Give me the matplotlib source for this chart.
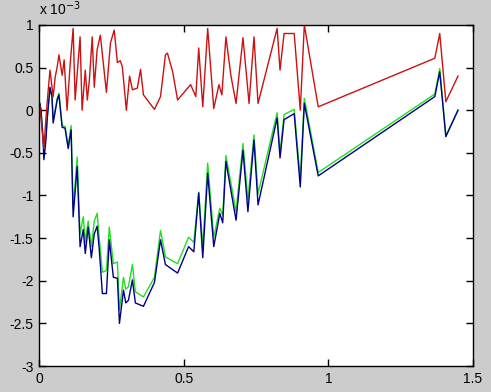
import matplotlib
matplotlib.use('Agg')
import matplotlib.pyplot as plt

plt.rcParams['font.family'] = ['Liberation Sans', 'DejaVu Sans']

# pixel-read data, y in units of 1e-3
x_red = [0.003, 0.017, 0.024, 0.031, 0.038, 0.049, 0.056, 0.063, 0.069, 0.080,
         0.087, 0.097, 0.108, 0.118, 0.125, 0.142, 0.149, 0.160, 0.167, 0.174,
         0.184, 0.191, 0.201, 0.212, 0.233, 0.247, 0.260, 0.271, 0.281, 0.288,
         0.302, 0.313, 0.323, 0.340, 0.351, 0.361, 0.399, 0.420, 0.437, 0.444,
         0.462, 0.479, 0.524, 0.542, 0.552, 0.566, 0.583, 0.604, 0.622, 0.632,
         0.646, 0.663, 0.681, 0.705, 0.726, 0.743, 0.757, 0.823, 0.833, 0.847,
         0.882, 0.903, 0.917, 0.965, 1.368, 1.385, 1.406, 1.448]
red = [0.05, -0.45, -0.1, 0.2, 0.47, 0.16, 0.39, 0.51, 0.65, 0.41,
       0.59, 0.0, 0.55, 0.96, 0.12, 0.86, 0.0, 0.47, 0.12, 0.35,
       0.86, 0.27, 0.71, 0.88, 0.21, 0.79, 0.94, 0.56, 0.58, 0.51,
       0.0, 0.40, 0.24, 0.26, 0.48, 0.18, 0.01, 0.16, 0.65, 0.67,
       0.45, 0.12, 0.30, 0.16, 0.73, 0.04, 0.96, 0.02, 0.30, 0.18,
       0.86, 0.41, 0.08, 0.85, 0.08, 0.86, 0.08, 0.96, 0.47, 0.90,
       0.90, 0.0, 1.0, 0.04, 0.61, 0.90, 0.10, 0.40]

x_bg = [0.003, 0.007, 0.014, 0.017, 0.024, 0.028, 0.038, 0.045, 0.049, 0.063,
        0.069, 0.080, 0.090, 0.101, 0.111, 0.118, 0.132, 0.142, 0.153, 0.160,
        0.170, 0.181, 0.191, 0.201, 0.208, 0.219, 0.233, 0.243, 0.257, 0.271,
        0.278, 0.292, 0.300, 0.309, 0.323, 0.333, 0.361, 0.399, 0.420, 0.437,
        0.479, 0.517, 0.535, 0.552, 0.566, 0.583, 0.604, 0.625, 0.635, 0.646,
        0.681, 0.705, 0.722, 0.743, 0.757, 0.823, 0.833, 0.847, 0.882, 0.903,
        0.917, 0.965, 1.368, 1.385, 1.406, 1.448]
blue = [0.08, 0.0, -0.35, -0.58, -0.35, -0.12, 0.27, 0.16, -0.15, 0.12,
        0.18, -0.2, -0.21, -0.45, -0.23, -1.25, -0.66, -1.6, -1.4, -1.68,
        -1.37, -1.73, -1.45, -1.36, -1.62, -2.15, -2.15, -1.52, -1.96, -1.97,
        -2.5, -2.11, -2.26, -2.23, -1.99, -2.26, -2.3, -2.02, -1.52, -1.81,
        -1.91, -1.6, -1.66, -0.97, -1.73, -0.74, -1.6, -1.21, -1.32, -0.6,
        -1.29, -0.47, -1.19, -0.35, -1.11, -0.09, -0.56, -0.11, -0.04, -0.9,
        0.08, -0.77, 0.16, 0.45, -0.31, 0.0]
green = [0.08, 0.0, -0.3, -0.5, -0.3, -0.1, 0.25, 0.15, -0.12, 0.14,
         0.2, -0.18, -0.19, -0.42, -0.18, -1.15, -0.55, -1.45, -1.25, -1.55,
         -1.3, -1.6, -1.3, -1.21, -1.49, -1.9, -1.88, -1.37, -1.8, -1.78,
         -2.34, -1.96, -2.1, -2.07, -1.81, -2.13, -2.19, -1.96, -1.41, -1.72,
         -1.8, -1.49, -1.55, -0.96, -1.6, -0.62, -1.49, -1.15, -1.23, -0.53,
         -1.19, -0.39, -1.05, -0.29, -0.98, -0.03, -0.5, -0.05, 0.01, -0.8,
         0.14, -0.73, 0.19, 0.49, -0.3, 0.0]

fig = plt.figure(figsize=(4.91, 3.92), dpi=100, facecolor='#cccccc')
ax = fig.add_axes([0.0794, 0.0663, 0.884, 0.870])
ax.set_facecolor('white')

ax.plot(x_bg, green, color='#22dd22', lw=1.0)
ax.plot(x_bg, blue, color='#000088', lw=1.0)
ax.plot(x_red, red, color='#cc1111', lw=1.0)

ax.set_xlim(0, 1.5)
ax.set_ylim(-3, 1)
ax.set_xticks([0, 0.5, 1, 1.5])
ax.set_xticklabels(['0', '0.5', '1', '1.5'])
ax.set_yticks([-3, -2.5, -2, -1.5, -1, -0.5, 0, 0.5, 1])
ax.set_yticklabels(['-3', '-2.5', '-2', '-1.5', '-1', '-0.5', '0', '0.5', '1'])
ax.tick_params(direction='in', length=5, width=1, top=True, right=True,
               labelsize=10, pad=4)
for s in ax.spines.values():
    s.set_linewidth(1)

fig.text(0.079, 0.955, r'x 10$^{-3}$', fontsize=10, va='bottom', ha='left')

fig.savefig('out.png', dpi=100, facecolor=fig.get_facecolor())
